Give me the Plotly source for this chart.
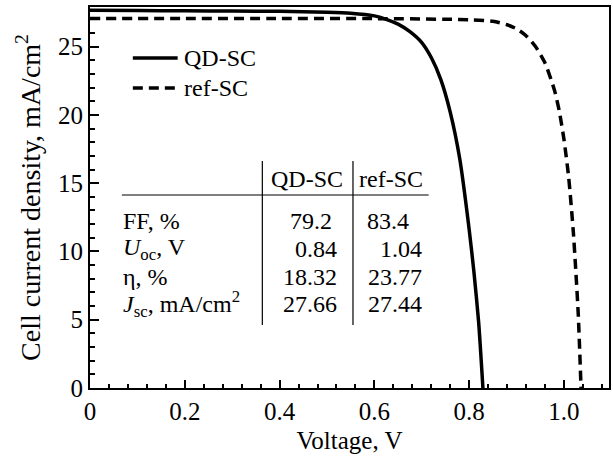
import plotly.graph_objects as go

# ---- data ----
qd_voltage = [0.00, 0.10, 0.20, 0.30, 0.40, 0.50, 0.55, 0.60, 0.625, 0.65, 0.675, 0.70,
              0.72, 0.74, 0.76, 0.78, 0.80, 0.81, 0.82, 0.829]
qd_current = [27.66, 27.64, 27.62, 27.60, 27.58, 27.52, 27.45, 27.25, 27.0, 26.65, 26.1, 25.3,
              24.2, 22.6, 20.2, 16.8, 11.6, 8.5, 4.8, 0.0]

ref_voltage = [0.00, 0.20, 0.40, 0.60, 0.80, 0.85, 0.88, 0.90, 0.92, 0.94, 0.96, 0.98,
               0.99, 1.00, 1.01, 1.02, 1.03, 1.036]
ref_current = [27.05, 27.05, 27.05, 27.05, 26.97, 26.85, 26.6, 26.3, 25.8, 25.0, 23.8, 21.8,
               20.3, 18.2, 15.4, 11.3, 5.5, 0.0]

series_names = ["QD-SC", "ref-SC"]
table_rows = ["FF, %", "<i>U</i><sub>oc</sub>, V", "η, %", "<i>J</i><sub>sc</sub>, mA/cm<sup>2</sup>"]
qd_params = ["79.2", "0.84", "18.32", "27.66"]
ref_params = ["83.4", "1.04", "23.77", "27.44"]

x_tickvals = [0, 0.2, 0.4, 0.6, 0.8, 1.0]
x_ticktext = ["0", "0.2", "0.4", "0.6", "0.8", "1.0"]
y_tickvals = [0, 5, 10, 15, 20, 25]

FONT = "Liberation Serif"
W, H = 613, 459
ML, MR, MT, MB = 90, 2, 7, 71
PW, PH = W - ML - MR, H - MT - MB


def px_x(px):
    return (px - ML) / PW


def px_y(py):
    return (H - MB - py) / PH


LINE_W = 3.5
DASH = "10px,6px"

fig = go.Figure()
fig.add_trace(go.Scatter(x=qd_voltage, y=qd_current, mode="lines", name=series_names[0],
                         showlegend=False,
                         line=dict(color="black", width=LINE_W, shape="spline", smoothing=0.6)))
fig.add_trace(go.Scatter(x=ref_voltage, y=ref_current, mode="lines", name=series_names[1],
                         showlegend=False,
                         line=dict(color="black", width=LINE_W, dash=DASH, shape="spline", smoothing=0.6)))

axis_common = dict(showline=True, linecolor="black", linewidth=2, mirror=True,
                   ticks="inside", tickcolor="black", tickwidth=1.5,
                   showgrid=False, zeroline=False,
                   tickfont=dict(family=FONT, size=25, color="black"))

fig.update_xaxes(range=[0, 1.095], tickvals=x_tickvals, ticktext=x_ticktext, ticklen=8,
                 minor=dict(ticks="inside", dtick=0.04, tick0=0, ticklen=4, tickcolor="black", tickwidth=1.5),
                 title=dict(text="Voltage, V", font=dict(family=FONT, size=25, color="black"), standoff=7),
                 **axis_common)
fig.update_yaxes(range=[0, 27.9], tickvals=y_tickvals, ticklen=9,
                 minor=dict(ticks="inside", dtick=1, tick0=0, ticklen=5, tickcolor="black", tickwidth=1.5),
                 title=dict(text="Cell current density, mA/cm<sup>2</sup>",
                            font=dict(family=FONT, size=28, color="black"), standoff=9),
                 **axis_common)

tf = dict(family=FONT, size=24, color="black")

# legend (drawn as sample lines + labels)
legend_rows_y = [58, 88]
legend_dash = ["solid", DASH]
shapes = []
annotations = []
for name, ly, dsh in zip(series_names, legend_rows_y, legend_dash):
    shapes.append(dict(type="line", xref="paper", yref="paper", x0=px_x(133), x1=px_x(178),
                       y0=px_y(ly), y1=px_y(ly), line=dict(color="black", width=LINE_W, dash=dsh)))
    annotations.append(dict(xref="paper", yref="paper", x=px_x(182), y=px_y(ly), text=name,
                            showarrow=False, xanchor="left", yanchor="middle", font=tf))

# table lines
shapes += [
    dict(type="line", xref="paper", yref="paper", x0=px_x(122), x1=px_x(430), y0=px_y(195), y1=px_y(195),
         line=dict(color="black", width=1.2)),
    dict(type="line", xref="paper", yref="paper", x0=px_x(263), x1=px_x(263), y0=px_y(161), y1=px_y(325),
         line=dict(color="black", width=1.2)),
    dict(type="line", xref="paper", yref="paper", x0=px_x(354), x1=px_x(354), y0=px_y(161), y1=px_y(325),
         line=dict(color="black", width=1.2)),
]

annotations.append(dict(xref="paper", yref="paper", x=px_x(308), y=px_y(179), text=series_names[0],
                        showarrow=False, xanchor="center", yanchor="middle", font=tf))
annotations.append(dict(xref="paper", yref="paper", x=px_x(392), y=px_y(179), text=series_names[1],
                        showarrow=False, xanchor="center", yanchor="middle", font=tf))
row_y = [221, 249, 277, 304]
qd_right = [333, 338, 338, 338]
ref_right = [410, 423, 423, 423]
for i, lab in enumerate(table_rows):
    annotations.append(dict(xref="paper", yref="paper", x=px_x(121), y=px_y(row_y[i]), text=lab,
                            showarrow=False, xanchor="left", yanchor="middle", font=tf))
    annotations.append(dict(xref="paper", yref="paper", x=px_x(qd_right[i] + 2), y=px_y(row_y[i]), text=qd_params[i],
                            showarrow=False, xanchor="right", yanchor="middle", font=tf))
    annotations.append(dict(xref="paper", yref="paper", x=px_x(ref_right[i] + 2), y=px_y(row_y[i]), text=ref_params[i],
                            showarrow=False, xanchor="right", yanchor="middle", font=tf))

fig.update_layout(
    width=W, height=H,
    margin=dict(l=ML, r=MR, t=MT, b=MB),
    paper_bgcolor="white", plot_bgcolor="white",
    font=dict(family=FONT, size=24, color="black"),
    showlegend=False,
    shapes=shapes,
    annotations=annotations,
)

fig.write_html("out.html", config={"displayModeBar": False},
               post_script="document.body.style.margin='0';document.body.style.overflow='hidden';")
